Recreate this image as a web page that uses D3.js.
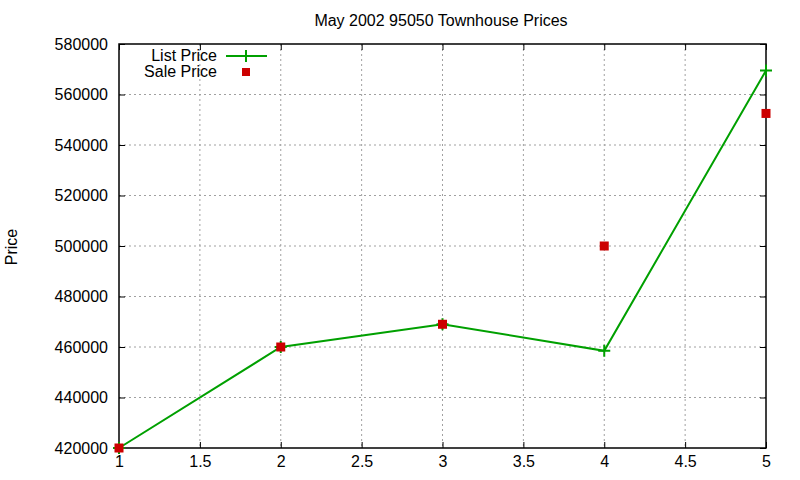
<!DOCTYPE html>
<html>
<head>
<meta charset="utf-8">
<script src="https://cdn.jsdelivr.net/npm/d3@7"></script>
<style>
  body { margin: 0; background: #fff; }
  text { font-family: "Liberation Sans", Arial, sans-serif; }
</style>
</head>
<body>
<div class="chart"></div>
<script>
var xValues = [1, 2, 3, 4, 5];
var listPrice = [420000, 460000, 469000, 458500, 569500];
var salePrice = [420000, 460000, 469000, 500000, 552500];
var xTicks = [1, 1.5, 2, 2.5, 3, 3.5, 4, 4.5, 5];
var yTicks = [420000, 440000, 460000, 480000, 500000, 520000, 540000, 560000, 580000];

var margin = { top: 44, right: 34, bottom: 32, left: 119 };
var width = 800 - margin.left - margin.right;
var height = 480 - margin.top - margin.bottom;

var svg = d3.select(".chart").append("svg")
  .attr("width", 800)
  .attr("height", 480);

var g = svg.append("g")
  .attr("transform", `translate(${margin.left},${margin.top})`);

var xScale = d3.scaleLinear().domain([1, 5]).range([0, width]);
var yScale = d3.scaleLinear().domain([420000, 580000]).range([height, 0]);

// grid
g.append("g").selectAll("line.vg")
  .data(xTicks.slice(1, -1))
  .enter().append("line")
  .attr("x1", d => xScale(d)).attr("x2", d => xScale(d))
  .attr("y1", 0).attr("y2", height)
  .attr("stroke", "#a0a0a0").attr("stroke-dasharray", "2,3");
g.append("g").selectAll("line.hg")
  .data(yTicks.slice(1, -1))
  .enter().append("line")
  .attr("x1", 0).attr("x2", width)
  .attr("y1", d => yScale(d)).attr("y2", d => yScale(d))
  .attr("stroke", "#a0a0a0").attr("stroke-dasharray", "2,3");

// axes with inward ticks, mirrored
var fontSize = 16;
g.append("g")
  .attr("transform", `translate(0,${height})`)
  .call(d3.axisBottom(xScale).tickValues(xTicks).tickSize(-6).tickPadding(8).tickFormat(d3.format("")))
  .call(a => a.select(".domain").remove())
  .call(a => a.selectAll("text").attr("font-size", fontSize).attr("fill", "#000").attr("font-family", "Liberation Sans, Arial, sans-serif"));
g.append("g")
  .call(d3.axisTop(xScale).tickValues(xTicks).tickSize(-6).tickFormat(""))
  .call(a => a.select(".domain").remove());
g.append("g")
  .call(d3.axisLeft(yScale).tickValues(yTicks).tickSize(-6).tickPadding(11).tickFormat(d3.format("d")))
  .call(a => a.select(".domain").remove())
  .call(a => a.selectAll("text").attr("font-size", fontSize).attr("fill", "#000").attr("font-family", "Liberation Sans, Arial, sans-serif"));
g.append("g")
  .attr("transform", `translate(${width},0)`)
  .call(d3.axisRight(yScale).tickValues(yTicks).tickSize(-6).tickFormat(""))
  .call(a => a.select(".domain").remove());

g.append("rect")
  .attr("width", width).attr("height", height)
  .attr("fill", "none").attr("stroke", "#000").attr("stroke-width", 1.5);

// list price line
var line = d3.line()
  .x((d, i) => xScale(xValues[i]))
  .y(d => yScale(d));
g.append("path")
  .datum(listPrice)
  .attr("d", line)
  .attr("fill", "none")
  .attr("stroke", "#00a000")
  .attr("stroke-width", 2);

function plus(sel, cx, cy) {
  sel.append("path")
    .attr("d", `M${cx - 6},${cy}H${cx + 6}M${cx},${cy - 6}V${cy + 6}`)
    .attr("stroke", "#00a000").attr("stroke-width", 2).attr("fill", "none");
}
listPrice.forEach((d, i) => plus(g, xScale(xValues[i]), yScale(d)));

// sale price points
g.selectAll(".sale")
  .data(salePrice)
  .enter().append("rect")
  .attr("class", "sale")
  .attr("x", (d, i) => xScale(xValues[i]) - 4.5)
  .attr("y", d => yScale(d) - 4.5)
  .attr("width", 9).attr("height", 9)
  .attr("fill", "#cc0000");

// legend
var legend = svg.append("g");
legend.append("text").attr("x", 217).attr("y", 61).attr("text-anchor", "end")
  .attr("font-size", fontSize).text("List Price");
legend.append("line").attr("x1", 226).attr("x2", 267).attr("y1", 56).attr("y2", 56)
  .attr("stroke", "#00a000").attr("stroke-width", 2);
plus(legend, 246, 56);
legend.append("text").attr("x", 217).attr("y", 77).attr("text-anchor", "end")
  .attr("font-size", fontSize).text("Sale Price");
legend.append("rect").attr("x", 242).attr("y", 68).attr("width", 8).attr("height", 8)
  .attr("fill", "#cc0000");

// title and y label
svg.append("text")
  .attr("x", 441).attr("y", 26)
  .attr("text-anchor", "middle")
  .attr("font-size", fontSize)
  .text("May 2002 95050 Townhouse Prices");
svg.append("text")
  .attr("transform", "translate(17,247) rotate(-90)")
  .attr("text-anchor", "middle")
  .attr("font-size", fontSize)
  .text("Price");
</script>
</body>
</html>
